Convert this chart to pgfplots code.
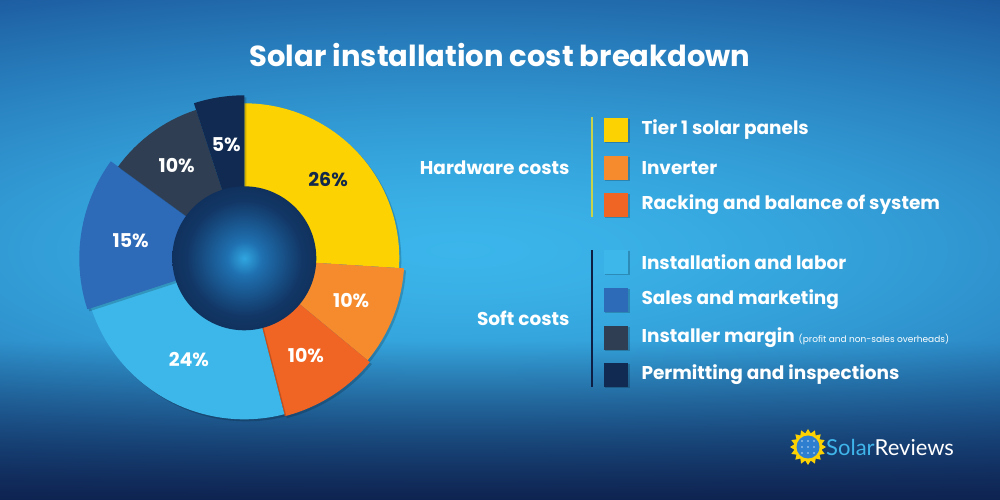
\documentclass[border=0pt]{standalone}
\usepackage{pgfplots}
\pgfplotsset{compat=1.18}
\usepackage{pgfplotstable}
\usetikzlibrary{shapes.geometric}
\usepackage{fontspec}
\setmainfont{Poppins}
\newfontfamily\logofont{Lato}

\definecolor{cTier}{HTML}{FCD202}
\definecolor{cInv}{HTML}{F58B2C}
\definecolor{cRack}{HTML}{F06424}
\definecolor{cInst}{HTML}{3DB7E9}
\definecolor{cSales}{HTML}{2D6AB8}
\definecolor{cMargin}{HTML}{2F3E52}
\definecolor{cPerm}{HTML}{102A52}
\definecolor{cNavyTxt}{HTML}{13294B}
\definecolor{hwLine}{HTML}{C8D34A}
\definecolor{swLine}{HTML}{0D1F44}
\definecolor{holeA}{HTML}{30A6E0}
\definecolor{holeB}{HTML}{1F70B0}
\definecolor{holeC}{HTML}{123766}
\definecolor{holeD}{HTML}{0B2045}
\definecolor{logoBlue}{HTML}{3FB5EA}
\definecolor{sunBlue}{HTML}{2F7FD0}

% background: elliptical glow with darkening towards the bottom
\pgfdeclarefunctionalshading{bgfun}{\pgfpoint{0bp}{0bp}}{\pgfpoint{100bp}{50bp}}{}{
 dup 3 1 roll
 25 sub 30 div dup mul exch 48 sub 55 div dup mul add sqrt
 dup 1 gt {pop 1} if
 dup sqrt mul
 exch 16 exch sub 16 div
 dup 0 lt {pop 0} if
 dup 1 gt {pop 1} if
 1 index -0.13 mul 0.23 add 1 index 1 exch sub mul 1 index 0.055 mul add
 2 index -0.38 mul 0.71 add 2 index 1 exch sub mul 2 index 0.137 mul add
 3 index -0.32 mul 0.92 add 3 index 1 exch sub mul 3 index 0.314 mul add
 5 -2 roll pop pop
}
\pgfdeclareradialshading{holeshade}{\pgfpoint{0bp}{0bp}}{color(0bp)=(holeA); color(6bp)=(holeB); color(20bp)=(holeC); color(40bp)=(holeD); color(50bp)=(holeD)}

% share (%)  outer radius (px)  fill  label colour
\pgfplotstableread{
pct rad fill txt
26 155 cTier cNavyTxt
10 160 cInv white
10 163 cRack white
24 161 cInst white
15 165 cSales white
10 156 cMargin white
5 163 cPerm white
}\slices

\begin{document}
\begin{tikzpicture}[x=1pt,y=1pt]
\useasboundingbox (0,0) rectangle (1000,500);
\shade[shading=bgfun] (0,0) rectangle (1000,500);

\begin{axis}[at={(0pt,0pt)}, anchor=south west, scale only axis,
  width=1000pt, height=500pt, xmin=0, xmax=1000, ymin=0, ymax=500,
  hide axis, clip=false]
\def\cx{244.3}\def\cy{241.7}
\def\startA{90}
\pgfplotsforeachungrouped \i in {0,...,6}{%
  \pgfplotstablegetelem{\i}{pct}\of\slices \let\sPct\pgfplotsretval
  \pgfplotstablegetelem{\i}{rad}\of\slices \let\sRad\pgfplotsretval
  \pgfplotstablegetelem{\i}{fill}\of\slices \let\sFill\pgfplotsretval
  \pgfplotstablegetelem{\i}{txt}\of\slices \let\sTxt\pgfplotsretval
  \pgfmathsetmacro\endA{\startA-3.6*\sPct}%
  \pgfmathsetmacro\midA{(\startA+\endA)/2}%
  \edef\tmp{\noexpand\fill[black, opacity=0.18] ([shift={(2pt,-2pt)}]axis cs:\cx,\cy) -- ++(\startA:\sRad pt) arc[start angle=\startA, end angle=\endA, radius=\sRad pt] -- cycle;}\tmp
  \edef\tmp{\noexpand\fill[\sFill] (axis cs:\cx,\cy) -- ++(\startA:\sRad pt) arc[start angle=\startA, end angle=\endA, radius=\sRad pt] -- cycle;}\tmp
  \edef\tmp{\noexpand\node[text=\sTxt, font=\noexpand\fontsize{19}{22}\noexpand\selectfont\noexpand\bfseries] at ([shift={(\midA:115pt)}]axis cs:\cx,\cy) {\sPct\%};}\tmp
  \let\startA\endA
}
\shade[shading=holeshade] (axis cs:\cx,\cy) circle[radius=72pt];
\end{axis}

% title
\node[text=white, font=\fontsize{29}{34}\selectfont\bfseries] at (500,445) {Solar installation cost breakdown};

% legend groups
\draw[hwLine, line width=1.5pt] (592,383) -- (592,283);
\draw[swLine, line width=1.5pt] (592,250) -- (592,113);
\node[anchor=east, text=white, font=\fontsize{18.5}{21}\selectfont\bfseries] at (573,332) {Hardware costs};
\node[anchor=east, text=white, font=\fontsize{18.5}{21}\selectfont\bfseries] at (573,182) {Soft costs};

\foreach \y/\col/\lab in {370/cTier/{Tier 1 solar panels}, 332/cInv/{Inverter}, 295/cRack/{Racking and balance of system}, 238/cInst/{Installation and labor}, 200/cSales/{Sales and marketing}, 125/cPerm/{Permitting and inspections}}{
  \fill[black, opacity=0.2] (605,\y-13) rectangle (630,\y+11);
  \fill[\col] (604,\y-12) rectangle (628,\y+12);
  \node[anchor=west, text=white, font=\fontsize{18.5}{21}\selectfont\bfseries] at (638,\y) {\lab};
}
\fill[black, opacity=0.2] (605,149) rectangle (630,173);
\fill[cMargin] (604,150) rectangle (628,174);
\node[anchor=west, text=white, inner sep=0pt] at (641.5,162) {\fontsize{18.5}{21}\selectfont\bfseries Installer margin\hspace{4pt}\fontsize{9}{10}\selectfont\mdseries(profit and non-sales overheads)};

% logo
\node[star, star points=16, star point ratio=1.3, fill=cTier, minimum size=36pt, inner sep=0pt] at (808,53) {};
\fill[sunBlue] (808,53) circle[radius=11.5];
\foreach \dx in {-6,0,6}{\foreach \dy in {-6,0,6}{\fill[white, opacity=0.7] (808+\dx,53+\dy) circle[radius=0.9];}}
\node[anchor=west, inner sep=0pt, font=\logofont\fontsize{22}{24}\selectfont] at (826,53) {\textcolor{logoBlue}{Solar}\textcolor{white}{Reviews}};
\end{tikzpicture}
\end{document}
